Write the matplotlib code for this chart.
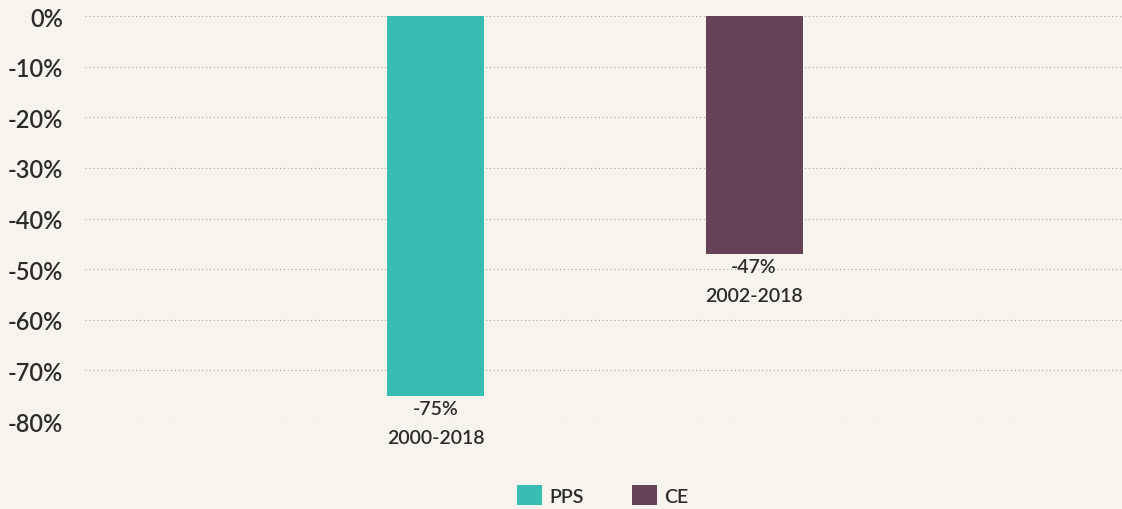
import matplotlib.pyplot as plt
from matplotlib.patches import Patch

# Data
series = ["PPS", "CE"]
values = [-75, -47]
periods = ["2000-2018", "2002-2018"]
colors = ["#38BDB2", "#664257"]
y_ticks = [0, -10, -20, -30, -40, -50, -60, -70, -80]

BG = "#F7F4EE"
TEXT = "#2B2B2B"

plt.rcParams['font.family'] = ['Lato', 'DejaVu Sans']

fig = plt.figure(figsize=(11.22, 5.10), dpi=100, facecolor=BG)
ax = fig.add_axes([85 / 1122, (510 - 422) / 510, 1 - 85 / 1122, (422 - 17) / 510])
ax.set_facecolor(BG)

x = [0, 1]
bars = ax.bar(x, values, width=0.305, color=colors, zorder=3)

for xi, v, p in zip(x, values, periods):
    ax.annotate(f"{v}%", (xi, v), xytext=(0, -3), textcoords="offset points",
                ha="center", va="top", fontsize=14, color=TEXT, fontweight="semibold",
                annotation_clip=False)
    ax.annotate(p, (xi, v), xytext=(0, -24), textcoords="offset points",
                ha="center", va="top", fontsize=14, color=TEXT, fontweight="semibold",
                annotation_clip=False)

ax.set_xlim(-1.1005, 2.155)
ax.set_ylim(-80, 0)
ax.set_yticks(y_ticks)
ax.set_yticklabels([f"{t}%" for t in y_ticks], fontsize=17, color=TEXT, fontweight="semibold")
ax.tick_params(axis="y", length=0, pad=16)
ax.set_xticks([])
ax.yaxis.grid(True, linestyle=(0, (1, 2.5)), color="#A8A8A8", linewidth=0.8, zorder=0)
for s in ax.spines.values():
    s.set_visible(False)

handles = [Patch(facecolor=c, label=s) for c, s in zip(colors, series)]
fig.legend(handles=handles, loc="center", bbox_to_anchor=(603 / 1122, 14 / 510), ncol=2,
           frameon=False, prop={"size": 14, "weight": "semibold"}, handlelength=1.25,
           handleheight=1.25, handletextpad=0.4, columnspacing=2.5, labelcolor=TEXT)

fig.savefig("out.png", dpi=100, facecolor=BG)
